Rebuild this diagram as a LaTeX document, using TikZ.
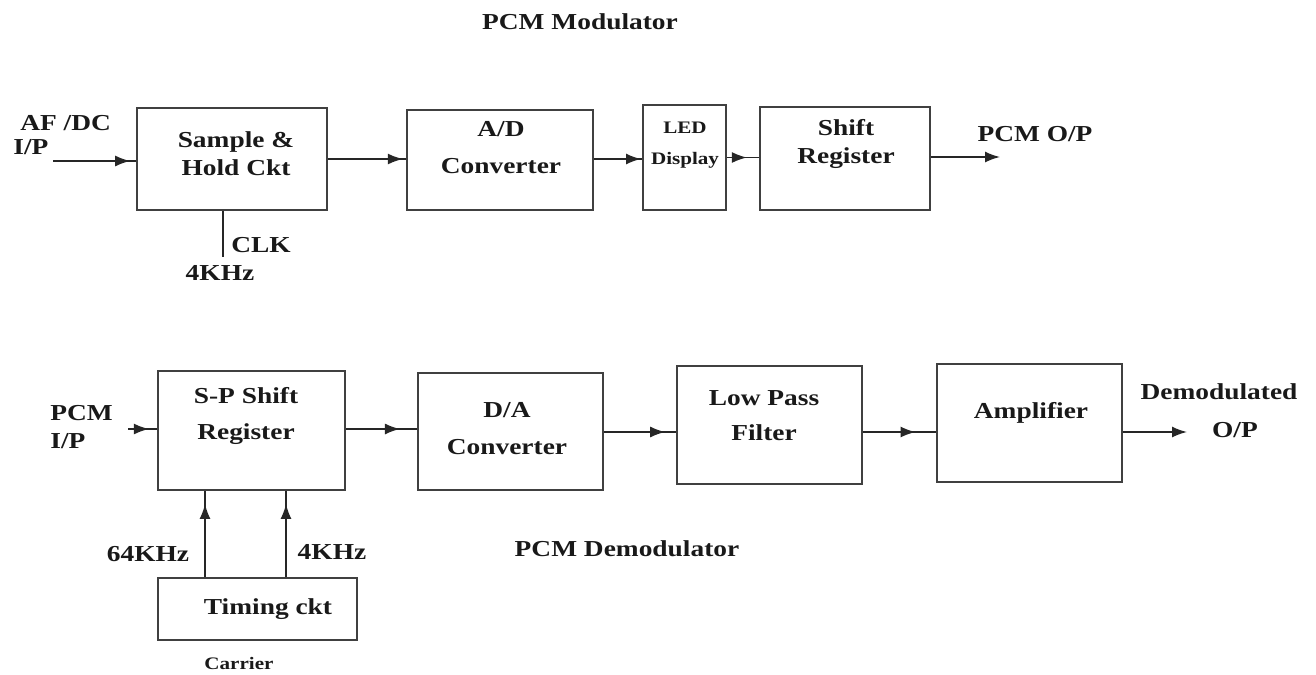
\documentclass[tikz,border=0pt]{standalone}
\usepackage{fontspec}
\setmainfont{Liberation Serif}[FakeStretch=1.2]
\usetikzlibrary{arrows.meta,decorations.markings}

\tikzset{
  blk/.style={draw=black!75,line width=1.2pt,inner sep=0pt},
  txt/.style={font=\bfseries\fontsize{13}{16}\selectfont,align=center,inner sep=0pt,text=black!90},
  smalltxt/.style={font=\bfseries\fontsize{10}{12}\selectfont,align=center,inner sep=0pt,text=black!90},
  wire/.style={line width=0.9pt,black!85},
  flow/.style={wire,-{Latex[length=0.3cm,width=0.22cm]}},
  tipat/.style={wire,postaction={decorate},
    decoration={markings,mark=at position #1 with {\arrow{Latex[length=0.3cm,width=0.22cm]}}}}
}

\begin{document}
\begin{tikzpicture}[x=0.02cm,y=-0.02cm]
    \useasboundingbox (0,0) rectangle (1316,674);

    % modulator
    \node[txt] (modT) at (580,22) {PCM Modulator};
    \node[blk,minimum width=3.8cm,minimum height=2.04cm] (sh) at (232,159) {};
    \node[blk,minimum width=3.72cm,minimum height=2.0cm] (ad) at (500,160) {};
    \node[blk,minimum width=1.66cm,minimum height=2.1cm] (led) at (684.5,157.5) {};
    \node[blk,minimum width=3.4cm,minimum height=2.06cm] (sr) at (845,158.5) {};
    \node[txt] (shT) at (236,154) {Sample \&\\Hold Ckt};
    \node[txt] (adT) at (501,148) {A/D\\[5pt]Converter};
    \node[smalltxt] (ledT) at (685,145) {LED\\[6pt]Display};
    \node[txt] (srT) at (846,144) {Shift\\Register};
    \node[txt,anchor=west] (afT) at (20,123) {AF /DC};
    \node[txt,anchor=west] (ipT) at (13,147) {I/P};
    \node[txt] (outT) at (1035,134) {PCM O/P};
    \node[txt] (clkT) at (261,245) {CLK};
    \node[txt] (fourT) at (220,273) {4KHz};
    \coordinate (afin) at (53,161);
    \coordinate (pcmout) at (1000,157);
    \coordinate (clkend) at (223,257);

    \draw[tipat=0.93] (afin) -- (afin -| sh.west);
    \draw[tipat=0.96] (sh.east) -- (sh.east -| ad.west);
    \draw[tipat=0.98] (ad.east |- 0,159) -- (led.west |- 0,159);
    \draw[tipat=0.62] (led.east) -- (led.east -| sr.west);
    \draw[flow] (sr.east |- pcmout) -- (pcmout);
    \draw[wire] (sh.south -| clkend) -- (clkend);

    % demodulator
    \node[blk,minimum width=3.74cm,minimum height=2.38cm] (sp) at (251.5,430.5) {};
    \node[blk,minimum width=3.7cm,minimum height=2.34cm] (da) at (510.5,431.5) {};
    \node[blk,minimum width=3.7cm,minimum height=2.36cm] (lpf) at (769.5,425) {};
    \node[blk,minimum width=3.7cm,minimum height=2.36cm] (amp) at (1029.5,423) {};
    \node[blk,minimum width=3.98cm,minimum height=1.24cm] (tim) at (257.5,609) {};
    \node[txt] (spT) at (246,416) {S-P Shift\\[5pt]Register};
    \node[txt] (daT) at (507,429) {D/A\\[5pt]Converter};
    \node[txt] (lpfT) at (764,416) {Low Pass\\[4pt]Filter};
    \node[txt] (ampT) at (1031,413) {Amplifier};
    \node[txt] (timT) at (268,609) {Timing ckt};
    \node[txt,align=left,anchor=west] (pcmT) at (50,427) {PCM\\I/P};
    \node[txt] (demT) at (1219,392) {Demodulated};
    \node[txt] (opT) at (1235,430) {O/P};
    \node[txt] (sixfourT) at (148,554) {64KHz};
    \node[txt] (fourbT) at (332,552) {4KHz};
    \node[txt] (demodT) at (627,549) {PCM Demodulator};
    \node[smalltxt] (carT) at (239,663) {Carrier};
    \coordinate (pcmin) at (128,429);
    \coordinate (demout) at (1187,432);

    \draw[tipat=0.72] (pcmin) -- (pcmin -| sp.west);
    \draw[tipat=0.76] (sp.east |- pcmin) -- (da.west |- pcmin);
    \draw[tipat=0.85] (da.east |- demout) -- (lpf.west |- demout);
    \draw[tipat=0.72] (lpf.east |- demout) -- (amp.west |- demout);
    \draw[flow] (amp.east |- demout) -- (demout);
    \foreach \x in {205,286}
        \draw[tipat=0.85] (tim.north -| \x,0) -- (sp.south -| \x,0);
\end{tikzpicture}
\end{document}
